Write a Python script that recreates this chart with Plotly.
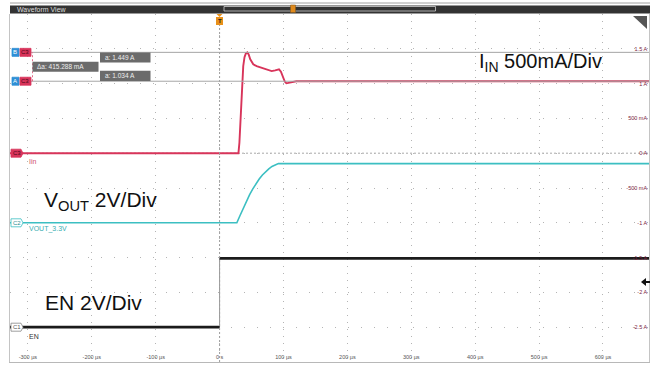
import plotly.graph_objects as go

W, H = 656, 367

# ---- data -------------------------------------------------------------
# time axis in microseconds
x_tick_vals = [-300, -200, -100, 0, 100, 200, 300, 400, 500, 600]
x_tick_text = ["-300 µs", "-200 µs", "-100 µs", "0 s", "100 µs",
               "200 µs", "300 µs", "400 µs", "500 µs", "600 µs"]

# C3 current scale (500 mA/div)
a_tick_vals = [1.5, 1.0, 0.5, 0.0, -0.5, -1.0, -1.5, -2.0, -2.5]
a_tick_text = ["1.5 A", "1 A", "500 mA", "0 A", "-500 mA", "-1 A",
               "-1.5 A", "-2 A", "-2.5 A"]

# Iin (C3), amps
iin_t = [-328, 29.5, 31, 33, 35, 37, 39, 41, 43.4, 45.5, 48, 52.7, 58, 65, 72,
         81.5, 87, 93, 96, 99, 102, 104.5, 108, 113, 120, 672]
iin_a = [0, 0, 0.15, 0.5, 0.9, 1.25, 1.38, 1.43, 1.449, 1.42, 1.35, 1.277,
         1.25, 1.23, 1.21, 1.18, 1.19, 1.205, 1.17, 1.09, 1.03, 1.004, 1.012,
         1.027, 1.034, 1.034]

# VOUT_3.3V (C2), volts
vout_t = [-328, 27, 32, 37, 42, 47, 52, 57, 62, 67, 72, 77, 82, 87, 92, 672]
vout_v = [0, 0, 0.42, 0.85, 1.25, 1.62, 1.95, 2.25, 2.52, 2.75, 2.95, 3.1,
          3.24, 3.33, 3.4, 3.4]

# EN (C1), volts
en_t = [-328, 0, 0, 672]
en_v = [0, 0, 3.96, 3.96]
en_trig_level = 2.6

# cursor readouts on C3
cursor_b = 1.449
cursor_a = 1.034
cursor_delta_ma = 415.288

# ---- geometry helpers (layout placement in pixels) ----------------------
def px(x):
    return x / W


def py(y):
    return 1 - y / H


PLOT_L, PLOT_R, PLOT_T, PLOT_B = 10, 649, 14, 362
FONT = "Liberation Sans, Arial, sans-serif"

RED = "#d8345a"
CYAN = "#3cbfc2"
BLACK = "#1b1b1b"
GRID = "#b4b4b4"

fig = go.Figure()

# EN edge (thin) and levels (thick)
fig.add_trace(go.Scatter(x=en_t, y=en_v, yaxis="y3", mode="lines",
                         line=dict(color="#9a9a9a", width=1),
                         hoverinfo="skip", showlegend=False))
fig.add_trace(go.Scatter(x=en_t[:2] + [None] + en_t[2:],
                         y=en_v[:2] + [None] + en_v[2:], yaxis="y3",
                         mode="lines", line=dict(color=BLACK, width=2.8),
                         connectgaps=False, showlegend=False))
fig.add_trace(go.Scatter(x=vout_t, y=vout_v, yaxis="y2", mode="lines",
                         line=dict(color=CYAN, width=1.6), showlegend=False))
fig.add_trace(go.Scatter(x=iin_t, y=iin_a, yaxis="y", mode="lines",
                         line=dict(color=RED, width=1.9), showlegend=False))

dom_x = [px(PLOT_L), px(PLOT_R)]
dom_y = [py(PLOT_B), py(PLOT_T)]

fig.update_layout(
    width=W, height=H,
    margin=dict(l=0, r=0, t=0, b=0),
    paper_bgcolor="white", plot_bgcolor="white",
    font=dict(family=FONT),
    xaxis=dict(domain=dom_x, range=[-328, 672], tickmode="array",
               tickvals=x_tick_vals, ticktext=x_tick_text,
               ticklabelposition="inside", ticks="",
               tickfont=dict(size=5.5, color="#555555"),
               showgrid=True, gridcolor=GRID, griddash="1px,6px",
               gridwidth=1, zeroline=False, showline=True,
               linecolor="#b8b8b8", linewidth=1, fixedrange=True),
    yaxis=dict(domain=dom_y, range=[-3, 2], side="right", tickmode="array",
               tickvals=a_tick_vals, ticktext=a_tick_text,
               ticklabelposition="inside", ticks="",
               tickfont=dict(size=5.5, color="#7b2440"),
               showgrid=True, gridcolor=GRID, griddash="1px,12px",
               gridwidth=1, zeroline=False, showline=True, mirror=True,
               linecolor="#c4c4c4", linewidth=1, fixedrange=True),
    yaxis2=dict(domain=dom_y, range=[-8, 12], overlaying="y", visible=False),
    yaxis3=dict(domain=dom_y, range=[-2, 18], overlaying="y", visible=False),
)

shapes = []
ann = []

# header bar
shapes.append(dict(type="line", xref="paper", yref="paper",
                   x0=px(PLOT_L), x1=px(PLOT_R + 1), y0=py(3), y1=py(3),
                   line=dict(color="#a0a0a0", width=1)))
shapes.append(dict(type="rect", xref="paper", yref="paper",
                   x0=px(PLOT_L), x1=px(PLOT_R + 1), y0=py(13.5), y1=py(5.5),
                   fillcolor="#333333", line=dict(width=0)))
shapes.append(dict(type="rect", xref="paper", yref="paper",
                   x0=px(224), x1=px(435.5), y0=py(11), y1=py(6.5),
                   fillcolor="rgba(0,0,0,0)", line=dict(color="#cfcfcf", width=0.8)))
shapes.append(dict(type="rect", xref="paper", yref="paper",
                   x0=px(290.5), x1=px(295.5), y0=py(12.5), y1=py(5),
                   fillcolor="#e08a1c", line=dict(color="#8a5a20", width=0.6)))
ann.append(dict(text="Waveform View", xref="paper", yref="paper",
                x=px(15), y=py(9.5), xanchor="left", yanchor="middle",
                showarrow=False, font=dict(size=7, color="#dddddd", family=FONT)))

# zoom corner icon
shapes.append(dict(type="path", xref="paper", yref="paper",
                   path=f"M {px(633)},{py(16)} L {px(647)},{py(16)} L {px(647)},{py(29)} Z",
                   fillcolor="#555555", line=dict(width=0)))

# trigger position line and marker
shapes.append(dict(type="line", xref="x", yref="paper", x0=0, x1=0,
                   y0=py(PLOT_B), y1=py(25),
                   line=dict(color="#9d9d9d", width=1, dash="2px,2px")))
shapes.append(dict(type="path", xref="paper", yref="paper",
                   path=f"M {px(216.5)},{py(14)} L {px(222.5)},{py(14)} L {px(219.5)},{py(17)} Z",
                   fillcolor="#e8901a", line=dict(width=0)))
shapes.append(dict(type="rect", xref="paper", yref="paper",
                   x0=px(216), x1=px(223), y0=py(25), y1=py(17),
                   fillcolor="#e8901a", line=dict(width=0)))
ann.append(dict(text="<b>T</b>", xref="paper", yref="paper",
                x=px(219.5), y=py(21), xanchor="center", yanchor="middle",
                showarrow=False, font=dict(size=6, color="#222222", family=FONT)))

# C3 reference level (0 A)
shapes.append(dict(type="line", xref="paper", yref="y",
                   x0=px(PLOT_L), x1=px(PLOT_R), y0=0, y1=0,
                   line=dict(color="#a9a9a9", width=1, dash="2px,2px"), layer="below"))

# cursor lines
for lvl in (cursor_b, cursor_a):
    shapes.append(dict(type="line", xref="paper", yref="y",
                       x0=px(31), x1=px(PLOT_R), y0=lvl, y1=lvl,
                       line=dict(color="#a5a5a5", width=1)))
shapes.append(dict(type="line", xref="paper", yref="y",
                   x0=px(32.5), x1=px(32.5), y0=cursor_a, y1=cursor_b,
                   line=dict(color="#e0708c", width=1, dash="2px,2px")))


def badge(x0, x1, yc_ref, yval, fill, border, text, tcolor, pointed=False):
    h = 4
    if pointed:
        path = (f"M 0,{-h} L {x1 - x0 - 2},{-h} L {x1 - x0},0 "
                f"L {x1 - x0 - 2},{h} L 0,{h} Z")
    else:
        path = f"M 0,{-h} L {x1 - x0},{-h} L {x1 - x0},{h} L 0,{h} Z"
    shapes.append(dict(type="path", xref="paper", yref=yc_ref,
                       xsizemode="pixel", ysizemode="pixel",
                       xanchor=px(x0), yanchor=yval, path=path,
                       fillcolor=fill, line=dict(color=border, width=0.8)))
    ann.append(dict(text=text, xref="paper", yref=yc_ref,
                    x=px((x0 + x1) / 2 - 0.5), y=yval, xanchor="center",
                    yanchor="middle", showarrow=False,
                    font=dict(size=6, color=tcolor, family=FONT)))


# cursor badges
badge(12, 19, "y", cursor_b, "#2f8fd6", "#2f8fd6", "B", "white")
badge(20, 31, "y", cursor_b, RED, RED, "C3", "#4a0818")
badge(12, 19, "y", cursor_a, "#2f8fd6", "#2f8fd6", "A", "white")
badge(20, 31, "y", cursor_a, RED, RED, "C3", "#4a0818")

# channel badges
badge(11, 23, "y", 0, RED, RED, "C3", "#4a0818", pointed=True)
badge(11, 23, "y2", 0, "white", CYAN, "C2", "#2f8f92", pointed=True)
badge(11, 23, "y3", 0, "white", "#888888", "C1", "#555555", pointed=True)

# channel names
ann.append(dict(text="Iin", xref="paper", yref="paper", x=px(26.5), y=py(161.5),
                xanchor="left", yanchor="middle", showarrow=False,
                font=dict(size=7, color="#d0506e", family=FONT)))
ann.append(dict(text="VOUT_3.3V", xref="paper", yref="paper", x=px(26.5), y=py(229),
                xanchor="left", yanchor="middle", showarrow=False,
                font=dict(size=7, color="#3aaeb1", family=FONT)))
ann.append(dict(text="EN", xref="paper", yref="paper", x=px(26.5), y=py(336),
                xanchor="left", yanchor="middle", showarrow=False,
                font=dict(size=7, color="#333333", family=FONT)))

# cursor readout boxes
def readout(x0, x1, y0, y1, text):
    shapes.append(dict(type="rect", xref="paper", yref="paper",
                       x0=px(x0), x1=px(x1), y0=py(y1), y1=py(y0),
                       fillcolor="#6b6b6b", line=dict(color="#6b6b6b", width=0)))
    ann.append(dict(text=text, xref="paper", yref="paper",
                    x=px(x0 + 2.5), y=py((y0 + y1) / 2), xanchor="left",
                    yanchor="middle", showarrow=False,
                    font=dict(size=6.5, color="#eeeeee", family=FONT)))


readout(100, 150.5, 52.5, 62.5, f"a: {cursor_b:.3f} A")
readout(32.5, 98.5, 61.8, 71.8, f"Δa: {cursor_delta_ma:.3f} mA")
readout(100, 150.5, 70.8, 81, f"a: {cursor_a:.3f} A")

# EN trigger level arrow
shapes.append(dict(type="path", xref="paper", yref="y3",
                   xsizemode="pixel", ysizemode="pixel",
                   xanchor=px(641), yanchor=en_trig_level,
                   path="M 0,0 L 5,4 L 5,1 L 9,1 L 9,-1 L 5,-1 L 5,-4 Z",
                   fillcolor="#111111", line=dict(width=0)))

# scale annotations
ann.append(dict(text="I<sub>IN</sub> 500mA/Div", xref="paper", yref="paper",
                x=px(477), y=py(62), xanchor="left", yanchor="middle",
                showarrow=False, font=dict(size=20, color="#111111", family=FONT)))
ann.append(dict(text="V<sub>OUT</sub> 2V/Div", xref="paper", yref="paper",
                x=px(42), y=py(201), xanchor="left", yanchor="middle",
                showarrow=False, font=dict(size=21, color="#111111", family=FONT)))
ann.append(dict(text="EN 2V/Div", xref="paper", yref="paper",
                x=px(43), y=py(302), xanchor="left", yanchor="middle",
                showarrow=False, font=dict(size=21, color="#111111", family=FONT)))

fig.update_layout(shapes=shapes, annotations=ann)
fig.write_html("out.html")
